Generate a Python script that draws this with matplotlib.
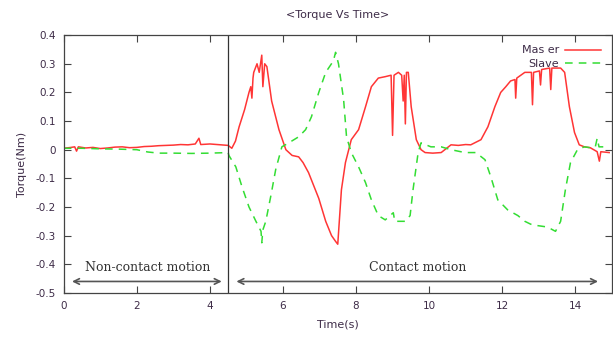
import matplotlib
matplotlib.use("Agg")
import matplotlib.pyplot as plt

# -----------------------------
# Data
# -----------------------------
master_t = [0.0, 0.2, 0.3, 0.35, 0.4, 0.6, 0.8, 1.0, 1.2, 1.4, 1.6, 1.8, 2.0, 2.2,
            2.4, 2.6, 2.8, 3.0, 3.2, 3.4, 3.6, 3.7, 3.75, 4.0, 4.2, 4.5, 4.6, 4.7,
            4.8, 4.95, 5.07, 5.12, 5.15, 5.18, 5.2, 5.29, 5.35, 5.42, 5.45, 5.5,
            5.56, 5.69, 5.89, 6.08, 6.25, 6.43, 6.55, 6.7, 6.98, 7.17, 7.33, 7.44,
            7.5, 7.6, 7.71, 7.87, 8.07, 8.26, 8.42, 8.61, 8.8, 8.96, 9.0, 9.04, 9.16,
            9.25, 9.29, 9.32, 9.35, 9.38, 9.43, 9.51, 9.65, 9.78, 9.89, 10.1, 10.33,
            10.6, 10.8, 11.0, 11.14, 11.42, 11.61, 11.8, 11.96, 12.1, 12.23, 12.35,
            12.37, 12.4, 12.62, 12.8, 12.83, 12.86, 13.02, 13.05, 13.08, 13.3, 13.33,
            13.36, 13.6, 13.71, 13.84, 13.98, 14.11, 14.25, 14.41, 14.6, 14.66, 14.7,
            14.93]
master_v = [0.005, 0.008, 0.01, -0.005, 0.01, 0.006, 0.008, 0.004, 0.006, 0.009,
            0.01, 0.007, 0.008, 0.011, 0.012, 0.014, 0.015, 0.016, 0.018, 0.017, 0.02,
            0.04, 0.018, 0.02, 0.018, 0.015, 0.005, 0.03, 0.08, 0.14, 0.2, 0.22, 0.18,
            0.25, 0.27, 0.3, 0.27, 0.33, 0.22, 0.3, 0.29, 0.17, 0.07, 0.0, -0.02,
            -0.025, -0.045, -0.08, -0.17, -0.25, -0.3, -0.32, -0.33, -0.14, -0.045,
            0.035, 0.07, 0.15, 0.22, 0.25, 0.255, 0.26, 0.05, 0.26, 0.27, 0.26, 0.17,
            0.26, 0.09, 0.27, 0.27, 0.15, 0.035, 0.0, -0.01, -0.012, -0.01, 0.017,
            0.015, 0.018, 0.017, 0.035, 0.08, 0.15, 0.2, 0.22, 0.24, 0.245, 0.18, 0.25,
            0.27, 0.27, 0.157, 0.27, 0.275, 0.226, 0.28, 0.285, 0.21, 0.285, 0.285,
            0.27, 0.15, 0.06, 0.017, 0.01, 0.007, -0.007, -0.04, -0.007, -0.01]

slave_t = [0.0, 0.5, 1.0, 1.5, 2.0, 2.3, 2.6, 3.0, 3.5, 4.0, 4.5, 4.52, 4.71, 4.88,
           5.07, 5.26, 5.4, 5.42, 5.45, 5.53, 5.67, 5.8, 5.97, 6.16, 6.43, 6.62, 6.78,
           6.98, 7.17, 7.38, 7.44, 7.52, 7.66, 7.74, 7.87, 8.07, 8.26, 8.42, 8.61, 8.8,
           9.02, 9.06, 9.16, 9.35, 9.48, 9.56, 9.7, 9.78, 10.05, 10.33, 10.6, 10.98,
           11.28, 11.53, 11.69, 11.88, 12.15, 12.43, 12.62, 12.78, 12.97, 13.24, 13.46,
           13.6, 13.73, 13.87, 14.06, 14.25, 14.41, 14.55, 14.6, 14.65, 14.8, 14.93]
slave_v = [0.005, 0.005, 0.003, 0.002, 0.0, -0.008, -0.012, -0.012, -0.013, -0.012,
           -0.01, -0.02, -0.06, -0.13, -0.2, -0.25, -0.285, -0.325, -0.28, -0.25, -0.16,
           -0.07, 0.01, 0.024, 0.045, 0.07, 0.115, 0.2, 0.27, 0.31, 0.34, 0.3, 0.175,
           0.045, -0.01, -0.06, -0.115, -0.175, -0.23, -0.245, -0.22, -0.25, -0.25,
           -0.25, -0.23, -0.14, -0.01, 0.024, 0.01, 0.01, 0.0, -0.01, -0.01, -0.035,
           -0.095, -0.175, -0.21, -0.23, -0.25, -0.26, -0.265, -0.27, -0.285, -0.25,
           -0.14, -0.045, 0.0, 0.01, 0.007, 0.01, 0.04, 0.01, 0.01, 0.01]

contact_start = 4.5
xticks = [0, 2, 4, 6, 8, 10, 12, 14]
yticks = [0.4, 0.3, 0.2, 0.1, 0, -0.1, -0.2, -0.3, -0.4, -0.5]
ytick_labels = ["0.4", "0.3", "0.2", "0.1", "0", "-0.1", "-0.2", "-0.3", "-0.4", "-0.5"]

# -----------------------------
# Plot
# -----------------------------
txt = "#3d2b47"
fig = plt.figure(figsize=(6.13, 3.41), dpi=100)
ax = fig.add_axes([0.104, 0.141, 0.894, 0.756])

ax.plot(master_t, master_v, color="#ff3535", lw=1.1, label="Mas er")
ax.plot(slave_t, slave_v, color="#33dd33", lw=1.1, dashes=(5, 4), label="Slave")
ax.axvline(contact_start, color="#333333", lw=0.9)

ax.set_xlim(0, 15)
ax.set_ylim(-0.5, 0.4)
ax.set_xticks(xticks)
ax.set_yticks(yticks)
ax.set_yticklabels(ytick_labels)
ax.tick_params(direction="in", length=5, width=0.8, top=True, right=True,
               labelsize=7.5, labelcolor=txt, color="#444444", pad=6)
for s in ax.spines.values():
    s.set_color("#444444")
    s.set_linewidth(0.9)

ax.set_title("<Torque Vs Time>", fontsize=8, color=txt, pad=12)
ax.set_xlabel("Time(s)", fontsize=8, color=txt, labelpad=6)
ax.set_ylabel("Torque(Nm)", fontsize=8, color=txt, labelpad=6)

# region annotations
ax.annotate("", xy=(0.15, -0.46), xytext=(4.4, -0.46),
            arrowprops=dict(arrowstyle="<->", color="#555555", lw=1.2))
ax.text(2.3, -0.41, "Non-contact motion", ha="center", va="center",
        fontsize=9, family="DejaVu Serif", color="#333333")
ax.annotate("", xy=(4.65, -0.46), xytext=(14.7, -0.46),
            arrowprops=dict(arrowstyle="<->", color="#555555", lw=1.2))
ax.text(9.7, -0.41, "Contact motion", ha="center", va="center",
        fontsize=9, family="DejaVu Serif", color="#333333")

ax.legend(loc="upper right", bbox_to_anchor=(0.995, 0.99), frameon=False,
          markerfirst=False, fontsize=8, handlelength=3.3, handletextpad=0.5,
          labelspacing=0.3, borderpad=0.2, labelcolor=txt)

fig.savefig("out.png", dpi=100)
